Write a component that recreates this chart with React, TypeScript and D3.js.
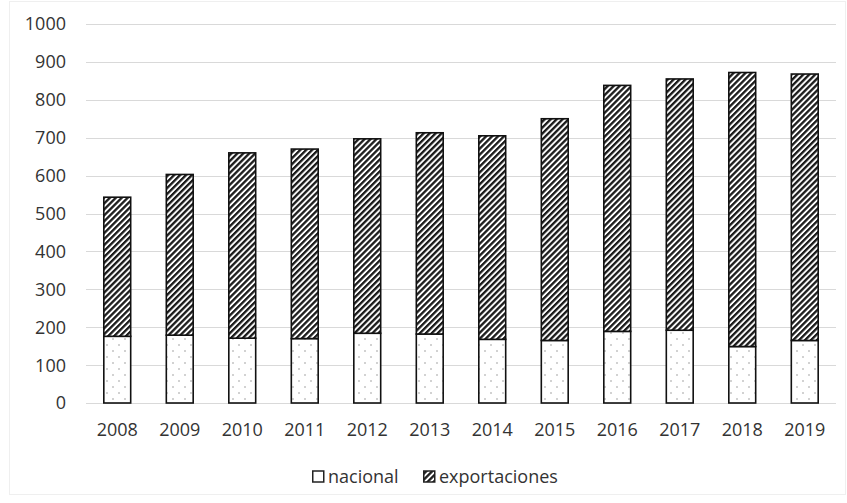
import { useRef, useEffect } from 'react'
import * as d3 from 'd3'

const years = ['2008', '2009', '2010', '2011', '2012', '2013', '2014', '2015', '2016', '2017', '2018', '2019']
// stacked totals; exportaciones = total - nacional
const nacional = [176, 179, 171, 170, 184, 182, 168, 165, 189, 192, 149, 165]
const totals = [543, 603, 660, 670, 697, 713, 705, 750, 838, 855, 872, 868]
const exportaciones = totals.map((t, i) => t - nacional[i])
const yTicks = [0, 100, 200, 300, 400, 500, 600, 700, 800, 900, 1000]
const seriesNames = ['nacional', 'exportaciones']

const W = 847
const H = 503
const FONT = '"Open Sans", "Noto Sans", sans-serif'

export default function App() {
  const svgRef = useRef<SVGSVGElement>(null)

  useEffect(() => {
    if (!svgRef.current) return
    const svg = d3.select(svgRef.current)
    svg.selectAll('*').remove()

    const margin = { top: 24, right: 11, bottom: 100, left: 86 }
    const width = W - margin.left - margin.right
    const chartHeight = H - margin.top - margin.bottom

    // Patterns
    const defs = svg.append('defs')
    const hatch = defs
      .append('pattern')
      .attr('id', 'hatch')
      .attr('patternUnits', 'userSpaceOnUse')
      .attr('width', 4.2)
      .attr('height', 4.2)
      .attr('patternTransform', 'rotate(45)')
    hatch.append('rect').attr('width', 4.2).attr('height', 4.2).attr('fill', '#fff')
    hatch.append('rect').attr('width', 2.3).attr('height', 4.2).attr('fill', '#1a1a1a')

    const dots = defs
      .append('pattern')
      .attr('id', 'dots')
      .attr('patternUnits', 'userSpaceOnUse')
      .attr('width', 12)
      .attr('height', 12)
    dots.append('rect').attr('width', 12).attr('height', 12).attr('fill', '#fff')
    dots.append('circle').attr('cx', 3).attr('cy', 3).attr('r', 0.8).attr('fill', '#999')
    dots.append('circle').attr('cx', 9).attr('cy', 9).attr('r', 0.8).attr('fill', '#999')

    // Chart frame (faint)
    svg
      .append('rect')
      .attr('x', 9.5)
      .attr('y', 1.5)
      .attr('width', W - 11)
      .attr('height', H - 10)
      .attr('fill', 'none')
      .attr('stroke', '#efefef')

    const g = svg.append('g').attr('transform', `translate(${margin.left},${margin.top})`)

    // Scales
    const x = d3.scaleBand().domain(years).range([0, width]).paddingInner(0.57).paddingOuter(0.285)
    const y = d3.scaleLinear().domain([0, 1000]).range([chartHeight, 0])

    // Grid
    g.selectAll('.grid')
      .data(yTicks)
      .join('line')
      .attr('class', 'grid')
      .attr('x1', 0)
      .attr('x2', width)
      .attr('y1', (d) => Math.round(y(d)) + 0.5)
      .attr('y2', (d) => Math.round(y(d)) + 0.5)
      .attr('stroke', '#d9d9d9')
      .attr('stroke-width', 1.2)

    // Y labels
    g.selectAll('.ylab')
      .data(yTicks)
      .join('text')
      .attr('class', 'ylab')
      .attr('x', -20)
      .attr('y', (d) => y(d))
      .attr('dy', '0.36em')
      .attr('text-anchor', 'end')
      .attr('font-family', FONT)
      .attr('font-size', 18)
      .attr('fill', '#333')
      .text((d) => d)

    // X labels
    g.selectAll('.xlab')
      .data(years)
      .join('text')
      .attr('class', 'xlab')
      .attr('x', (d) => (x(d) ?? 0) + x.bandwidth() / 2)
      .attr('y', chartHeight + 27)
      .attr('dy', '0.36em')
      .attr('text-anchor', 'middle')
      .attr('font-family', FONT)
      .attr('font-size', 18)
      .attr('fill', '#333')
      .text((d) => d)

    // Stacked bars
    const rows = years.map((yr, i) => ({ year: yr, nacional: nacional[i], exportaciones: exportaciones[i] }))
    const stack = d3.stack<any>().keys(seriesNames)(rows)
    const fills = ['url(#dots)', 'url(#hatch)']

    stack.forEach((layer, li) => {
      g.selectAll(`.bar-${li}`)
        .data(layer)
        .join('rect')
        .attr('class', `bar-${li}`)
        .attr('x', (d) => x(d.data.year) ?? 0)
        .attr('y', (d) => y(d[1]))
        .attr('width', x.bandwidth())
        .attr('height', (d) => y(d[0]) - y(d[1]))
        .attr('fill', fills[li])
        .attr('stroke', '#111')
        .attr('stroke-width', 1.6)
    })

    // Legend
    const legend = svg.append('g').attr('transform', `translate(312, 477)`)
    const items = [
      { name: seriesNames[0], fill: '#fff', x: 0 },
      { name: seriesNames[1], fill: 'url(#hatch)', x: 111 },
    ]
    items.forEach((it) => {
      legend
        .append('rect')
        .attr('x', it.x + 0.75)
        .attr('y', -6)
        .attr('width', 11)
        .attr('height', 11)
        .attr('fill', it.fill)
        .attr('stroke', '#222')
        .attr('stroke-width', 1.5)
      legend
        .append('text')
        .attr('x', it.x + 16)
        .attr('y', 0)
        .attr('dy', '0.36em')
        .attr('font-family', FONT)
        .attr('font-size', 18)
        .attr('fill', '#333')
        .text(it.name)
    })
  }, [])

  return (
    <div style={{ position: 'absolute', left: 0, top: 0, width: W, height: H, background: '#fff' }}>
      <svg ref={svgRef} width={W} height={H} style={{ display: 'block' }} />
    </div>
  )
}
